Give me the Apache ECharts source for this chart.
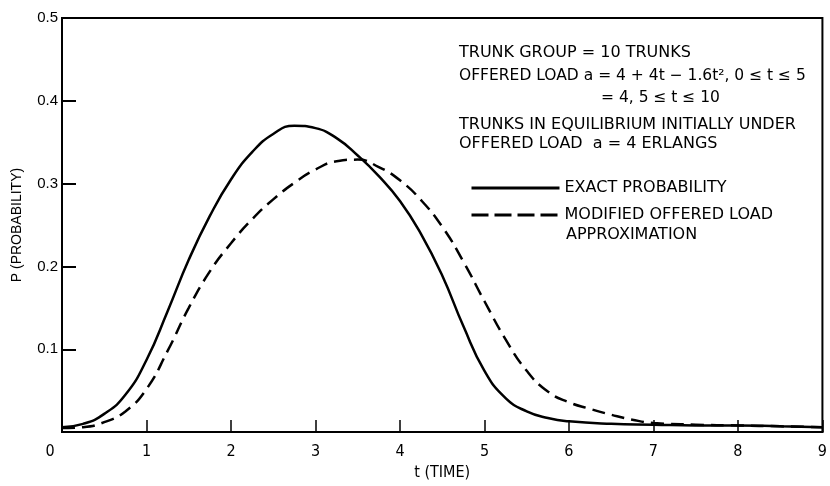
<!DOCTYPE html>
<html>
<head>
<meta charset="utf-8">
<script src="https://cdn.jsdelivr.net/npm/echarts@6/dist/echarts.min.js"></script>
<style>html,body{margin:0;padding:0;background:#fff}#c{width:830px;height:486px}</style>
</head>
<body>
<div id="c"></div>
<script>
// Data
const tExact = [0,0.25,0.5,0.75,1,1.25,1.5,1.75,2,2.25,2.5,2.75,3,3.25,3.5,3.75,4,4.25,4.5,4.75,5,5.25,5.5,5.75,6,6.5,7,7.5,8,8.5,9];
const pExact = [0.006,0.010,0.022,0.045,0.087,0.146,0.208,0.261,0.305,0.338,0.360,0.370,0.367,0.355,0.334,0.309,0.279,0.239,0.189,0.128,0.074,0.041,0.025,0.017,0.013,0.010,0.009,0.008,0.008,0.007,0.006];
const tApprox = [0,0.25,0.5,0.75,1,1.25,1.5,1.75,2,2.25,2.5,2.75,3,3.25,3.5,3.75,4,4.25,4.5,4.75,5,5.25,5.5,5.75,6,6.25,6.5,6.75,7,7.5,8,8.5,9];
const pApprox = [0.005,0.006,0.012,0.025,0.052,0.098,0.150,0.194,0.228,0.257,0.281,0.301,0.317,0.327,0.329,0.320,0.304,0.280,0.248,0.206,0.158,0.112,0.074,0.049,0.036,0.028,0.021,0.015,0.011,0.009,0.008,0.007,0.006];
const xTicks = [0,1,2,3,4,5,6,7,8,9];
const yTicks = [0.1,0.2,0.3,0.4,0.5];
const seriesNames = ['EXACT PROBABILITY','MODIFIED OFFERED LOAD'];
const noteLines = [
  'TRUNK GROUP = 10 TRUNKS',
  'OFFERED LOAD a = 4 + 4t \u2212 1.6t\u00B2, 0 \u2264 t \u2264 5',
  '= 4, 5 \u2264 t \u2264 10',
  'TRUNKS IN EQUILIBRIUM INITIALLY UNDER',
  'OFFERED LOAD  a = 4 ERLANGS',
  'APPROXIMATION'
];

const FONT = '"Liberation Sans", Arial, Helvetica, sans-serif';
const WIDE = '"DejaVu Sans", "Liberation Sans", sans-serif';
const NARROW = '"Liberation Sans Narrow", "DejaVu Sans Condensed", "Liberation Sans", sans-serif';
const NOTE_SIZE = 16;
const chart = echarts.init(document.getElementById('c'), null, {renderer: 'canvas'});
const txt = (x, y, s, size) => ({type: 'text', left: x, top: y, style: {text: s, font: (size || NOTE_SIZE) + 'px ' + WIDE, fill: '#000'}});

chart.setOption({
  animation: false,
  backgroundColor: '#fff',
  grid: {left: 62, right: 5, top: 18, bottom: 46, show: true, borderColor: '#000', borderWidth: 2, backgroundColor: 'transparent'},
  xAxis: {
    type: 'value', min: xTicks[0], max: xTicks[xTicks.length - 1], interval: 1,
    name: 't (TIME)', nameLocation: 'middle', nameGap: 30,
    nameTextStyle: {fontFamily: NARROW, fontSize: 16, color: '#000'},
    axisLine: {lineStyle: {color: '#000', width: 2}},
    axisTick: {inside: true, length: 12, lineStyle: {color: '#000', width: 1.5}},
    axisLabel: {
      color: '#000', fontFamily: NARROW, fontSize: 16, margin: 12,
      formatter: v => v === 0 ? '{z|0}' : String(v),
      rich: {z: {fontFamily: NARROW, fontSize: 16, color: '#000', padding: [0, 24, 0, 0]}}
    },
    splitLine: {show: false}
  },
  yAxis: {
    type: 'value', min: 0, max: yTicks[yTicks.length - 1], interval: 0.1,
    name: 'P (PROBABILITY)', nameLocation: 'middle', nameGap: 38,
    nameTextStyle: {fontFamily: FONT, fontSize: 14, color: '#000'},
    axisLine: {show: true, lineStyle: {color: '#000', width: 2}},
    axisTick: {inside: true, length: 14, lineStyle: {color: '#000', width: 2}},
    axisLabel: {color: '#000', fontFamily: FONT, fontSize: 15, margin: 4,
      formatter: v => v === 0 ? '' : v.toFixed(1)},
    splitLine: {show: false}
  },
  legend: {
    orient: 'vertical', left: 470, top: 180, padding: 0, itemWidth: 88, itemHeight: 14, itemGap: 11,
    itemStyle: {opacity: 0},
    textStyle: {fontFamily: WIDE, fontSize: NOTE_SIZE, color: '#000', lineHeight: 14},
    data: [
      {name: seriesNames[0], lineStyle: {width: 3, type: 'solid', color: '#000'}},
      {name: seriesNames[1], lineStyle: {width: 3, type: [17, 6], color: '#000'}}
    ]
  },
  graphic: [
    txt(459, 45, noteLines[0]),
    txt(459, 68, noteLines[1], 15.5),
    txt(601, 90, noteLines[2], 15.5),
    txt(459, 117, noteLines[3]),
    txt(459, 136, noteLines[4]),
    txt(566, 227, noteLines[5])
  ],
  series: [
    {
      name: seriesNames[0], type: 'line', smooth: true, symbol: 'none',
      lineStyle: {color: '#000', width: 2.5, type: 'solid'},
      itemStyle: {color: '#000'},
      data: tExact.map((t, i) => [t, pExact[i]])
    },
    {
      name: seriesNames[1], type: 'line', smooth: true, symbol: 'none',
      lineStyle: {color: '#000', width: 2.5, type: [13, 7]},
      itemStyle: {color: '#000'},
      data: tApprox.map((t, i) => [t, pApprox[i]])
    }
  ]
});
</script>
</body>
</html>
